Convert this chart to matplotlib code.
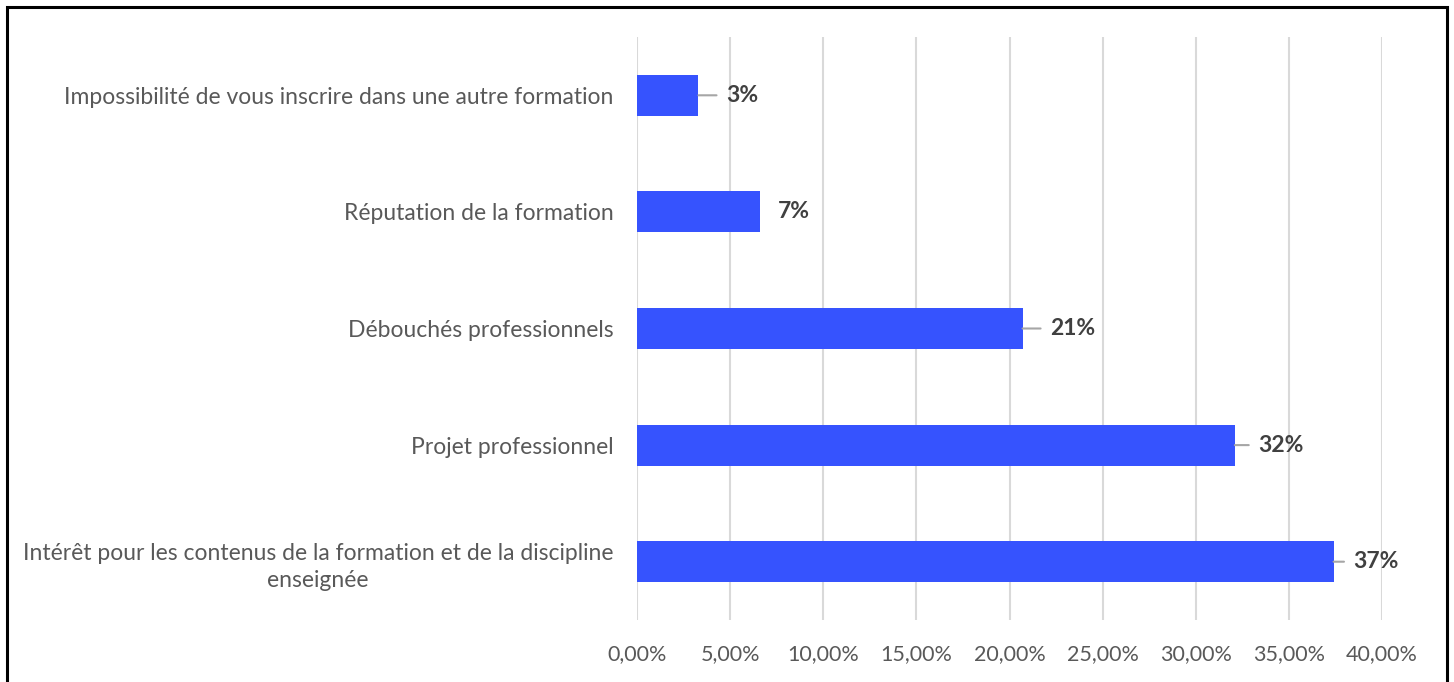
import matplotlib
matplotlib.use('Agg')
import matplotlib.pyplot as plt
from matplotlib.patches import Rectangle

# Motifs du choix de la formation (bottom to top)
categories = ['Intérêt pour les contenus de la formation et de la discipline\nenseignée',
              'Projet professionnel',
              'Débouchés professionnels',
              'Réputation de la formation',
              'Impossibilité de vous inscrire dans une autre formation']
values = [37.4, 32.1, 20.7, 6.6, 3.3]
labels = ['37%', '32%', '21%', '7%', '3%']
leader = [True, True, True, False, True]   # small grey line to the label
x_ticks = [0, 5, 10, 15, 20, 25, 30, 35, 40]

plt.rcParams['font.family'] = ['Lato', 'DejaVu Sans']

fig = plt.figure(figsize=(14.54, 6.82), dpi=100)
ax = fig.add_axes([637/1454, 1-620/682, (1382-637)/1454, (620-37)/682])

pos = range(len(categories))
ax.barh(pos, values, height=0.35, color='#3653FE', zorder=3)

# label offsets in points, as placed in the original
offsets = [14.5, 17, 20, 13, 20]
for i, (v, lab, ln) in enumerate(zip(values, labels, leader)):
    arrow = None
    if ln:
        arrow = dict(arrowstyle='-', color='#a6a6a6', lw=1.5, shrinkA=5, shrinkB=0)
    ax.annotate(lab, xy=(v, i), xytext=(offsets[i], 0), textcoords='offset points',
                ha='left', va='center', fontsize=16.5, fontweight='bold', color='#404040',
                arrowprops=arrow)

ax.set_xlim(0, 40)
ax.set_ylim(-0.5, len(categories) - 0.5)
ax.set_xticks(x_ticks)
ax.set_xticklabels([('%.2f%%' % t).replace('.', ',') for t in x_ticks])
ax.xaxis.set_tick_params(labelsize=15.5, labelcolor='#595959', length=0, pad=17)
ax.set_yticks(list(pos))
ax.set_yticklabels(categories, multialignment='center', linespacing=1.35)
ax.yaxis.set_tick_params(labelsize=16.5, labelcolor='#595959', length=0, pad=17)
ax.grid(axis='x', color='#d9d9d9', lw=1.5, zorder=0)
for s in ax.spines.values():
    s.set_visible(False)

fig.patches.append(Rectangle((7/1454, -0.1), 1440/1454, 1.1 - 7/682,
                             transform=fig.transFigure, fill=False,
                             edgecolor='black', lw=2.2))

plt.savefig('out.png', dpi=100)
